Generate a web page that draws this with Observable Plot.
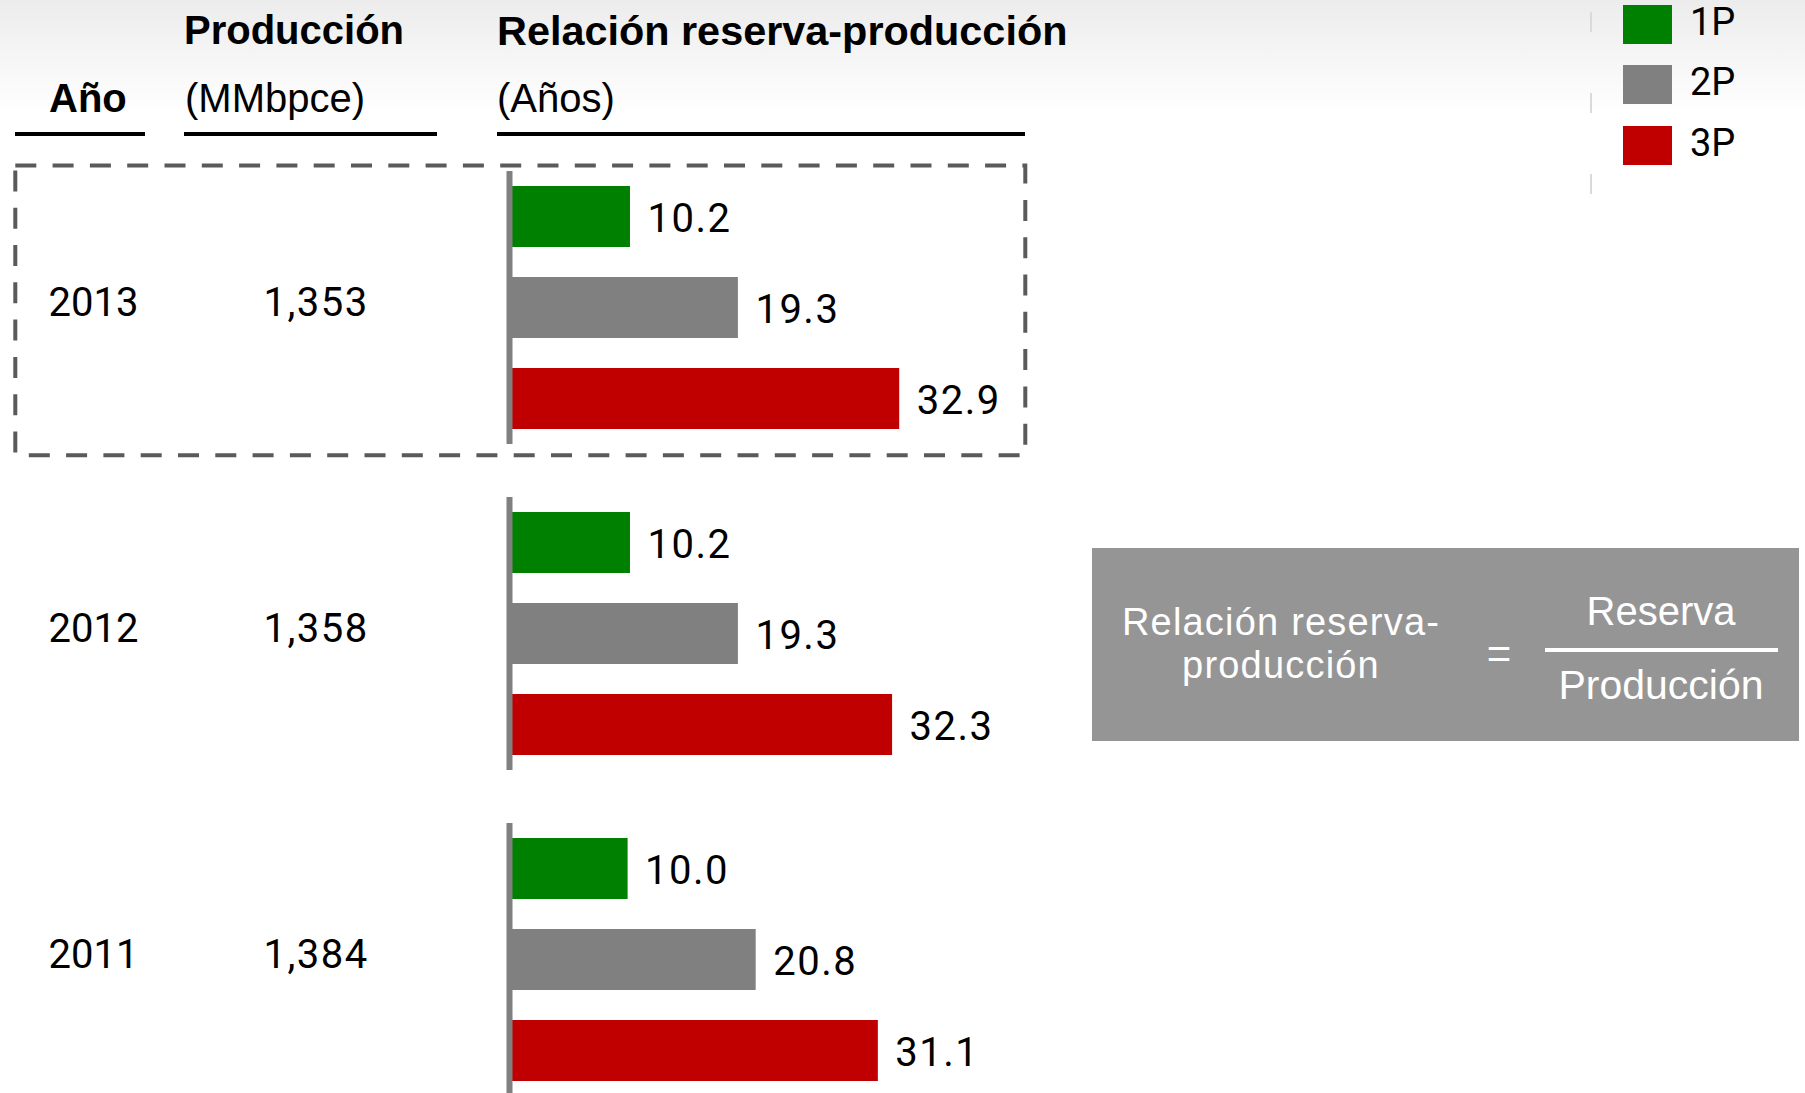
<!DOCTYPE html>
<html>
<head>
<meta charset="utf-8">
<script src="https://cdn.jsdelivr.net/npm/d3@7"></script>
<script src="https://cdn.jsdelivr.net/npm/@observablehq/plot@0.6"></script>
<style>
html, body { margin: 0; padding: 0; width: 1805px; height: 1093px; overflow: hidden; background: #fff; }
#page { position: relative; width: 1805px; height: 1093px; background: linear-gradient(to bottom, #ececec 0px, #ffffff 115px); }
#chart { position: absolute; left: 0; top: 0; z-index: 1; }
.t { position: absolute; white-space: nowrap; line-height: 1; color: #000; z-index: 2; }
.hdr { font-family: "Liberation Sans", Arial, sans-serif; font-size: 40px; }
.b { font-weight: bold; }
.rule { position: absolute; background: #000; height: 4px; top: 132px; z-index: 2; }
.sw { position: absolute; left: 1623px; width: 49px; height: 39px; z-index: 2; }
.lg { font-family: Roboto, sans-serif; font-size: 38px; left: 1690px; }
#box { position: absolute; left: 1092px; top: 548px; width: 707px; height: 193px; background: #959595; z-index: 2; }
.w { color: #fff; font-family: "Liberation Sans", Arial, sans-serif; text-align: center; width: 400px; z-index: 3; }
#frac { position: absolute; left: 1545px; top: 648px; width: 233px; height: 4px; background: #fff; z-index: 3; }
#faint { position: absolute; left: 1590px; top: 12px; width: 2px; height: 185px; z-index: 2;
  background: repeating-linear-gradient(to bottom, #dadada 0px, #dadada 20px, transparent 20px, transparent 81px); }
</style>
</head>
<body>
<div id="page">
  <div id="chart"></div>

  <div class="t hdr b" style="left:49px; top:78px;">Año</div>
  <div class="t hdr b" style="left:184px; top:10px;">Producción</div>
  <div class="t hdr" style="left:185px; top:78px;">(MMbpce)</div>
  <div class="t hdr b" style="left:497px; top:11px; font-size:41.4px;">Relación reserva-producción</div>
  <div class="t hdr" style="left:497px; top:78px;">(Años)</div>
  <div class="rule" style="left:15px; width:130px;"></div>
  <div class="rule" style="left:184px; width:253px;"></div>
  <div class="rule" style="left:497px; width:528px;"></div>

  <div id="faint"></div>
  <div id="legend"></div>

  <div id="box"></div>
  <div class="t w" style="left:1081px; top:600.8px; font-size:38px; line-height:43px; letter-spacing:1.2px;">Relación reserva-<br>producción</div>
  <div class="t w" style="left:1299px; top:633px; font-size:42px;">=</div>
  <div class="t w" style="left:1461px; top:591px; font-size:40px;">Reserva</div>
  <div id="frac"></div>
  <div class="t w" style="left:1461px; top:665px; font-size:41px;">Producción</div>
</div>
<script>
// ---- Data ----
const years = [2013, 2012, 2011];
const production = [1353, 1358, 1384];           // MMbpce
const series = ["1P", "2P", "3P"];
const colors = ["#008000", "#808080", "#C00000"];
const ratio1P = [10.2, 10.2, 10.0];              // años
const ratio2P = [19.3, 19.3, 20.8];
const ratio3P = [32.9, 32.3, 31.1];
const highlightedYear = [2013];

// ---- Tables built from the arrays ----
const ratios = {"1P": ratio1P, "2P": ratio2P, "3P": ratio3P};
const rows = [];
years.forEach((yr, i) => series.forEach(s => rows.push({year: yr, series: s, value: ratios[s][i]})));
const yearRows = years.map((yr, i) => ({year: yr, production: production[i]}));
const boxRows = highlightedYear.map(yr => ({year: yr}));

const chart = Plot.plot({
  width: 1805,
  height: 1093,
  marginTop: 0, marginRight: 0, marginBottom: 0, marginLeft: 0,
  facet: {marginTop: 0, marginRight: 0, marginBottom: 0, marginLeft: 0},
  style: {background: "transparent", fontFamily: "Roboto, sans-serif", fontSize: "40px", color: "#000", overflow: "visible"},
  x: {domain: [0, 40], range: [509, 509 + 40 * 11.86], axis: null},
  y: {domain: series, paddingInner: 1 / 3, paddingOuter: 0, axis: null},
  fy: {domain: years, range: [185, 1083], paddingInner: 0.2538, paddingOuter: 0, axis: null, label: null},
  color: {domain: series, range: colors},
  marks: [
    Plot.rect(boxRows, {
      fy: "year", fill: "none", stroke: "#5a5a5a", strokeWidth: 4, strokeDasharray: "21,16.3",
      insetLeft: 15.3, insetRight: 1805 - 1025.3, insetTop: -20.5, insetBottom: -26.3
    }),
    Plot.barX(rows, {x: "value", y: "series", fy: "year", fill: "series"}),
    Plot.ruleX([0], {stroke: "#808080", strokeWidth: 6, insetTop: -15, insetBottom: -15}),
    Plot.text(rows, {
      x: "value", y: "series", fy: "year", text: d => d3.format(".1f")(d.value),
      textAnchor: "start", dx: 17, dy: 2, fontSize: 40, fontFamily: "Roboto, sans-serif", fill: "#000"
    }),
    Plot.text(yearRows, {
      fy: "year", text: d => String(d.year), frameAnchor: "left", textAnchor: "start",
      dx: 48, dy: -5, fontSize: 40, fontFamily: "Roboto, sans-serif", fill: "#000"
    }),
    Plot.text(yearRows, {
      fy: "year", text: d => d3.format(",")(d.production), frameAnchor: "left", textAnchor: "start",
      dx: 263, dy: -5, fontSize: 40, fontFamily: "Roboto, sans-serif", fill: "#000"
    })
  ]
});
// slight letter spacing on value and production labels, as in the reference
chart.querySelectorAll("g[aria-label='text'] text").forEach(t => {
  if (/[.,]/.test(t.textContent)) t.setAttribute("letter-spacing", "1.5");
});
document.getElementById("chart").appendChild(chart);

// ---- Legend (top right) ----
const legend = document.getElementById("legend");
const swTops = [5, 65, 126];
series.forEach((s, i) => {
  const sw = document.createElement("div");
  sw.className = "sw";
  sw.style.top = swTops[i] + "px";
  sw.style.background = colors[i];
  legend.appendChild(sw);
  const lb = document.createElement("div");
  lb.className = "t lg";
  lb.style.top = (swTops[i] - 2) + "px";
  lb.textContent = s;
  legend.appendChild(lb);
});
</script>
</body>
</html>
